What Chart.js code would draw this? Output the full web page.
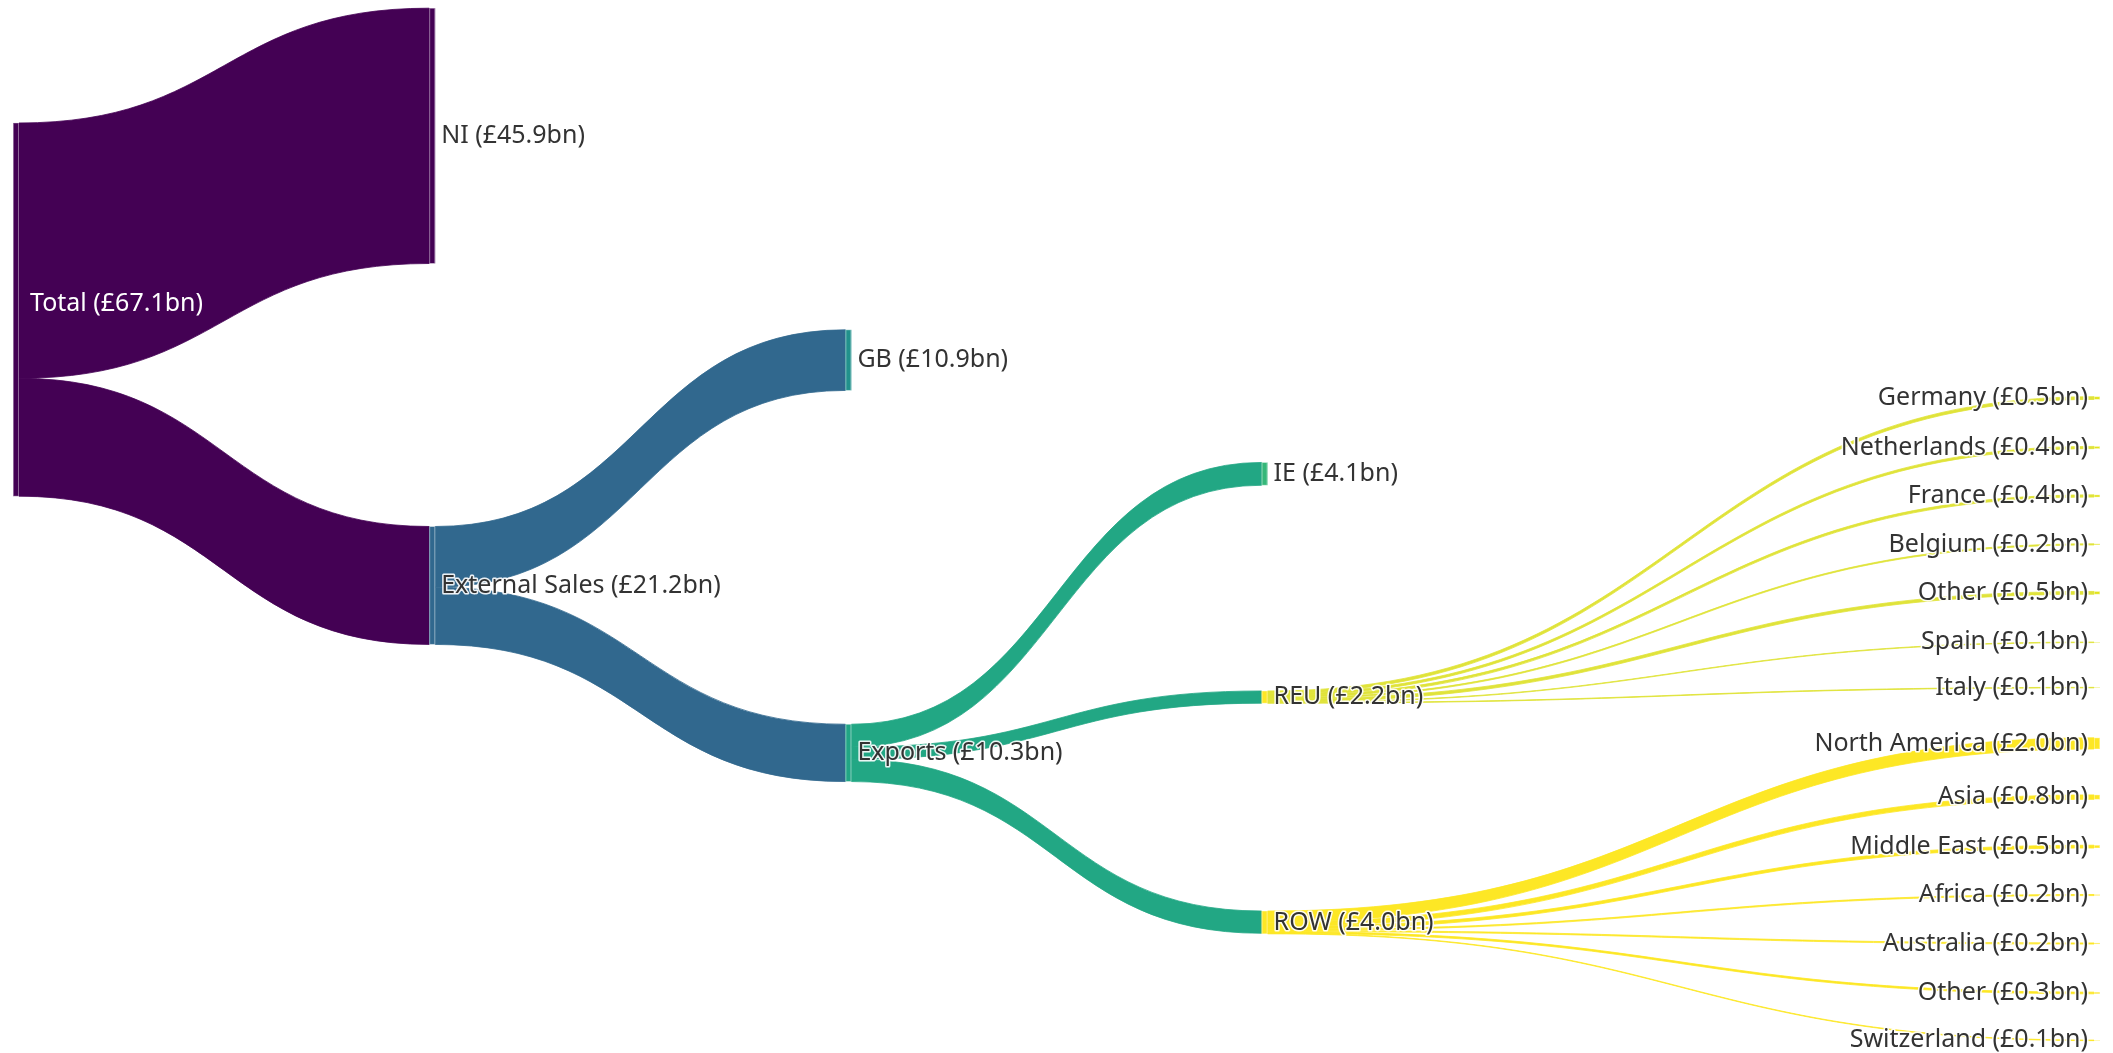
<!DOCTYPE html>
<html>
<head>
<meta charset="utf-8">
<script src="https://cdn.jsdelivr.net/npm/chart.js@4"></script>
<style>
  html, body { margin: 0; padding: 0; background: #fff; }
  #chartBox { width: 2113px; height: 1053px; }
</style>
</head>
<body>
<div id="chartBox"><canvas id="sankey" width="2113" height="1053"></canvas></div>
<script>
// nodes
const nodeNames = ["Total", "NI", "External Sales", "GB", "Exports", "IE", "REU", "ROW",
  "Germany", "Netherlands", "France", "Belgium", "Other", "Spain", "Italy",
  "North America", "Asia", "Middle East", "Africa", "Australia", "Other", "Switzerland"];

// links (values in £bn)
const linkSource = [0, 0, 2, 2, 4, 4, 4, 6, 6, 6, 6, 6, 6, 6, 7, 7, 7, 7, 7, 7, 7];
const linkTarget = [1, 2, 3, 4, 5, 6, 7, 8, 9, 10, 11, 12, 13, 14, 15, 16, 17, 18, 19, 20, 21];
const linkValue = [45.9, 21.2, 10.9, 10.3, 4.1, 2.2, 4.0,
  0.5, 0.4, 0.4, 0.2, 0.5, 0.1, 0.1,
  2.0, 0.8, 0.5, 0.2, 0.2, 0.3, 0.1];

// layout: column and vertical centre (fraction of height), like plotly's node.x / node.y
const nodeCol = [0, 1, 1, 2, 2, 3, 3, 3, 5, 5, 5, 5, 5, 5, 5, 5, 5, 5, 5, 5, 5, 5];
const nodeYFrac = [0.294, 0.129, 0.556, 0.342, 0.715, 0.450, 0.662, 0.876,
  0.378, 0.425, 0.471, 0.517, 0.563, 0.610, 0.653,
  0.706, 0.757, 0.804, 0.850, 0.896, 0.943, 0.988];

// styles
const nodeColors = ["#440154", "#440154", "#31688e", "#21918c", "#21a685", "#35b779", "#fde725", "#fde725",
  "#e2e418", "#e2e418", "#e2e418", "#e2e418", "#e2e418", "#e2e418", "#e2e418",
  "#fde725", "#fde725", "#fde725", "#fde725", "#fde725", "#fde725", "#fde725"];
const flowColorBySource = { 0: "#440154", 2: "#31688e", 4: "#22a784", 6: "#e0e33a", 7: "#fde725" };

const Y_MAX = 189.3;     // vertical extent of the plot in £bn
const NODE_W = 6;
const LABEL_FONT = '25px "Noto Sans"';

// node sizes
const nodeIn = nodeNames.map(() => 0);
const nodeOut = nodeNames.map(() => 0);
linkValue.forEach((v, i) => {
  nodeOut[linkSource[i]] += v;
  nodeIn[linkTarget[i]] += v;
});
const nodeValue = nodeNames.map((_, i) => Math.max(nodeIn[i], nodeOut[i]));
const nodeShown = nodeNames.map((_, i) => nodeIn[i] > 0 ? nodeIn[i] : nodeOut[i]);
const nodeTop = nodeValue.map((v, i) => nodeYFrac[i] * Y_MAX - v / 2);

const sankeyPlugin = {
  id: "sankeyDraw",
  afterDatasetsDraw(chart) {
    const ctx = chart.ctx;
    const xs = chart.scales.x, ys = chart.scales.y;
    const px = c => xs.getPixelForValue(c);
    const py = v => ys.getPixelForValue(v);

    // stack offsets
    const outOff = nodeTop.slice();
    const inOff = nodeTop.slice();

    ctx.save();
    // links
    linkValue.forEach((v, i) => {
      const s = linkSource[i], t = linkTarget[i];
      const x0 = px(nodeCol[s]) + NODE_W;
      const x1 = px(nodeCol[t]);
      const y0a = py(outOff[s]), y0b = py(outOff[s] + v);
      const y1a = py(inOff[t]), y1b = py(inOff[t] + v);
      outOff[s] += v;
      inOff[t] += v;
      const xm = (x0 + x1) / 2;
      ctx.beginPath();
      ctx.moveTo(x0, y0a);
      ctx.bezierCurveTo(xm, y0a, xm, y1a, x1, y1a);
      ctx.lineTo(x1, y1b);
      ctx.bezierCurveTo(xm, y1b, xm, y0b, x0, y0b);
      ctx.closePath();
      ctx.fillStyle = flowColorBySource[s];
      ctx.fill();
      // thin links stay visible
      ctx.strokeStyle = flowColorBySource[s];
      ctx.lineWidth = 0.8;
      ctx.stroke();
    });

    // nodes
    nodeNames.forEach((n, i) => {
      const x = px(nodeCol[i]);
      const yTop = py(nodeTop[i]);
      const yBot = py(nodeTop[i] + nodeValue[i]);
      ctx.fillStyle = nodeColors[i];
      ctx.fillRect(x, yTop, NODE_W, yBot - yTop);
      ctx.strokeStyle = "rgba(255,255,255,0.4)";
      ctx.lineWidth = 1;
      ctx.strokeRect(x + 0.5, yTop, NODE_W - 1, yBot - yTop);
    });

    // labels
    ctx.font = LABEL_FONT;
    ctx.textBaseline = "middle";
    ctx.lineJoin = "round";
    nodeNames.forEach((n, i) => {
      const txt = n + " (£" + nodeShown[i].toFixed(1) + "bn)";
      const yc = py(nodeYFrac[i] * Y_MAX);
      let x;
      if (nodeCol[i] === 5) {
        ctx.textAlign = "right";
        x = px(nodeCol[i]) - 6;
      } else {
        ctx.textAlign = "left";
        x = px(nodeCol[i]) + NODE_W + 6;
      }
      if (i === 0) {
        ctx.fillStyle = "#ffffff";
        ctx.fillText(txt, x + 5, yc - 6);
        return;
      }
      ctx.strokeStyle = "rgba(255,255,255,0.9)";
      ctx.lineWidth = 3;
      ctx.strokeText(txt, x, yc);
      ctx.fillStyle = "#333333";
      ctx.fillText(txt, x, yc);
    });
    ctx.restore();
  }
};

new Chart(document.getElementById("sankey").getContext("2d"), {
  type: "scatter",
  data: {
    datasets: [{
      data: nodeNames.map((_, i) => ({ x: nodeCol[i], y: nodeYFrac[i] * Y_MAX })),
      pointRadius: 0
    }]
  },
  options: {
    responsive: false,
    animation: false,
    events: [],
    layout: { padding: { left: 13, right: 19, top: 0, bottom: 0 } },
    plugins: { legend: { display: false }, tooltip: { enabled: false } },
    scales: {
      x: { type: "linear", min: 0, max: 5, display: false },
      y: { type: "linear", min: 0, max: Y_MAX, reverse: true, display: false }
    }
  },
  plugins: [sankeyPlugin]
});
</script>
</body>
</html>
